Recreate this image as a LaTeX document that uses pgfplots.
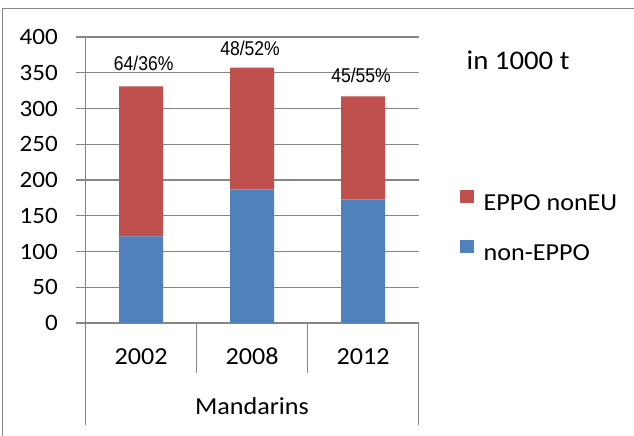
\documentclass[border=0pt]{standalone}
\usepackage{fontspec}
\setmainfont{Carlito}[FakeStretch=1.07]
\newfontfamily\pctfont{Liberation Sans}[FakeStretch=0.88]
\usepackage{pgfplots}
\pgfplotsset{compat=1.18}
\definecolor{eppored}{RGB}{192,80,77}
\definecolor{nonblue}{RGB}{79,129,189}
\definecolor{gridgray}{RGB}{134,134,134}

\begin{document}
\begin{tikzpicture}[x=1bp,y=1bp]
\useasboundingbox (-85.5,-113) rectangle (548.5,323);
\fill[white] (-85.5,-113) rectangle (548.5,323);
\draw[gridgray, line width=1.3bp] (-83,-115) -- (-83,314.5) -- (550,314.5);
\begin{axis}[
  at={(0,0)}, anchor=south west,
  scale only axis, width=333bp, height=286bp,
  xmin=-0.5, xmax=2.5, ymin=0, ymax=400,
  ybar stacked, bar width=44bp,
  axis line style={draw=none},
  major tick length=0pt,
  xtick=data, xticklabels={2002,2008,2012},
  ytick={0,50,...,400},
  ymajorgrids, major grid style={gridgray, line width=1.1bp},
  /pgf/number format/assume math mode=true,
  xticklabel style={anchor=base, inner sep=0pt, yshift=-42bp, font=\fontsize{24.5}{28}\selectfont},
  yticklabel style={anchor=east, inner sep=0pt, xshift=-27.5bp, font=\fontsize{23.5}{27}\selectfont},
  clip=false,
  reverse legend,
  legend cell align=left,
  legend style={draw=none, fill=none, at={(1.1246,0.466)}, anchor=north west,
    inner sep=0pt, row sep=24.7bp,
    nodes={inner sep=0pt, text height=17bp, text depth=5bp, font=\fontsize{24.5}{28}\selectfont},
    /tikz/every odd column/.append style={column sep=10bp}},
  legend image code/.code={\fill[#1] (0bp,1bp) rectangle (13.4bp,14.4bp);},
]
\addplot[fill=nonblue, draw=none] coordinates {(0,121) (1,187) (2,173)};
\addlegendentry{non-EPPO}
\addplot[fill=eppored, draw=none] coordinates {(0,210) (1,170) (2,144)};
\addlegendentry{EPPO nonEU}

\pgfplotsinvokeforeach{0,50,...,400}{
  \draw[gridgray, line width=1.1bp] (axis cs:-0.5,#1) -- ++(-10bp,0bp);
}
\draw[gridgray, line width=1.1bp] (axis cs:-0.5,400) -- (axis cs:-0.5,0) -- ++(0bp,-102bp);
\draw[gridgray, line width=1.1bp] (axis cs:2.5,0) -- ++(0bp,-102bp);
\draw[gridgray, line width=1.1bp] (axis cs:0.5,0) -- ++(0bp,-50bp);
\draw[gridgray, line width=1.1bp] (axis cs:1.5,0) -- ++(0bp,-50bp);

\node[anchor=base, inner sep=0pt, font=\fontsize{24.5}{28}\selectfont] at (axis cs:1,0) [yshift=-92bp] {Mandarins};

\node[anchor=base, inner sep=0pt, font=\pctfont\fontsize{20}{23}\selectfont] at (axis cs:0,331) [xshift=2.7bp, yshift=16bp] {64/36\%};
\node[anchor=base, inner sep=0pt, font=\pctfont\fontsize{20}{23}\selectfont] at (axis cs:1,357) [xshift=-2bp, yshift=12.7bp] {48/52\%};
\node[anchor=base, inner sep=0pt, font=\pctfont\fontsize{20}{23}\selectfont] at (axis cs:2,317) [xshift=-2bp, yshift=13.6bp] {45/55\%};
\end{axis}
\node[anchor=base west, inner sep=0pt, font=\fontsize{27}{30}\selectfont] at (381,253) {in 1000 t};
\end{tikzpicture}
\end{document}
